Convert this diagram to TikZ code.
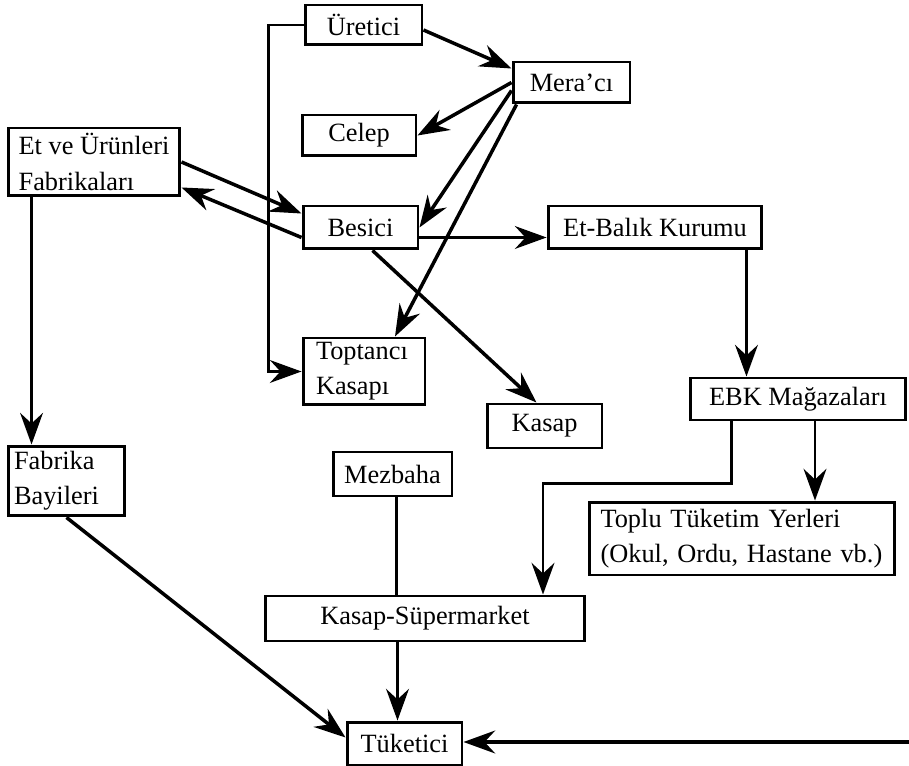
\documentclass[tikz,border=0pt]{standalone}
\usepackage{fontspec}
\setmainfont{Liberation Serif}
\usetikzlibrary{arrows.meta,calc}

\tikzset{
  box/.style={draw, line width=1.7pt, inner sep=0pt, font=\fontsize{15}{20}\selectfont},
  arr/.style={-{Stealth[length=18pt,width=13pt,inset=6pt]}, line width=1.4pt},
  heavy/.style={arr, line width=2pt},
}

\begin{document}
\begin{tikzpicture}[x=0.02cm, y=-0.02cm]
    \useasboundingbox (0,0) rectangle (909,766);

    % boxes
    \node[box, minimum width=2.34cm, minimum height=0.8cm] (uretici) at (363.5,25) {Üretici};
    \node[box, minimum width=2.34cm, minimum height=0.82cm] (meraci) at (571.5,82.5) {Mera'cı};
    \node[box, minimum width=2.28cm, minimum height=0.82cm] (celep) at (359,135.5) {Celep};
    \node[box, align=left, minimum width=3.44cm, minimum height=1.36cm] (fabrikalar) at (94,162) {Et ve Ürünleri\\Fabrikaları};
    \node[box, minimum width=2.3cm, minimum height=0.86cm] (besici) at (360.5,227.5) {Besici};
    \node[box, minimum width=4.28cm, minimum height=0.86cm] (ebkurum) at (655,227.5) {Et-Balık Kurumu};
    \node[box, align=left, text width=1.92cm, inner xsep=0.26cm, minimum height=1.34cm] (toptanci) at (364,371.5) {Toptancı\\Kasapı};
    \node[box, minimum width=2.3cm, minimum height=0.88cm] (kasap) at (544.5,426) {Kasap};
    \node[box, minimum width=4.32cm, minimum height=0.84cm] (ebkmagaza) at (798,399) {EBK Mağazaları};
    \node[box, align=left, text width=2.1cm, inner xsep=0.12cm, minimum height=1.4cm] (bayiler) at (66.5,481) {Fabrika\\Bayileri};
    \node[box, minimum width=2.38cm, minimum height=0.88cm] (mezbaha) at (392.5,474) {Mezbaha};
    \node[box, align=left, text width=5.66cm, inner xsep=0.22cm, minimum height=1.46cm] (toplu) at (742,538.5) {Toplu Tüketim Yerleri\\(Okul, Ordu, Hastane vb.)};
    \node[box, minimum width=6.4cm, minimum height=0.9cm] (supermarket) at (425,618.5) {Kasap-Süpermarket};
    \node[box, minimum width=2.3cm, minimum height=0.86cm] (tuketici) at (404.5,743.5) {Tüketici};
    \coordinate (sagdan) at (909,742);

    % connectors
    \draw[heavy] ($(uretici.east)+(0,5)$) -- ($(meraci.north west)+(0,8)$);
    \draw[arr] (uretici.west) -- ++(-35,0) |- (toptanci.west);
    \draw[heavy] (meraci.west) -- (celep.east);
    \draw[heavy] ($(meraci.west)+(0,8)$) -- (besici.east);
    \draw[heavy] ($(meraci.south west)+(5,0)$) -- ($(toptanci.north)+(31,0)$);
    \draw[heavy] (fabrikalar.east) -- ($(besici.north west)+(0,9)$);
    \draw[heavy] ($(besici.west)+(0,10)$) -- ($(fabrikalar.south east)+(0,-10)$);
    \draw[arr] ($(besici.east)+(0,10)$) -- ($(ebkurum.west)+(0,10)$);
    \draw[heavy] ($(besici.south)+(12,0)$) -- ($(kasap.north)+(-8,0)$);
    \draw[arr] ($(ebkurum.south east)+(-17,0)$) coordinate (e1) -- (e1 |- ebkmagaza.north);
    \draw[arr] ($(ebkmagaza.south)+(17,0)$) coordinate (e2) -- (e2 |- toplu.north);
    \draw[arr] ($(ebkmagaza.south west)+(43,0)$) -- ++(0,62) -| ($(supermarket.north)+(118,0)$);
    \draw[arr] ($(fabrikalar.south west)+(25,0)$) coordinate (f1) -- (f1 |- bayiler.north);
    \draw[heavy] (bayiler.south) -- ($(tuketici.west)+(0,-6)$);
    \draw[line width=1.4pt] ($(mezbaha.south)+(4,0)$) coordinate (m1) -- (m1 |- supermarket.north);
    \draw[arr] ($(tuketici.north)+(-7,0)$) coordinate (t1) (t1 |- supermarket.south) -- (t1);
    \draw[heavy] (sagdan) -- (sagdan -| tuketici.east);
\end{tikzpicture}
\end{document}
